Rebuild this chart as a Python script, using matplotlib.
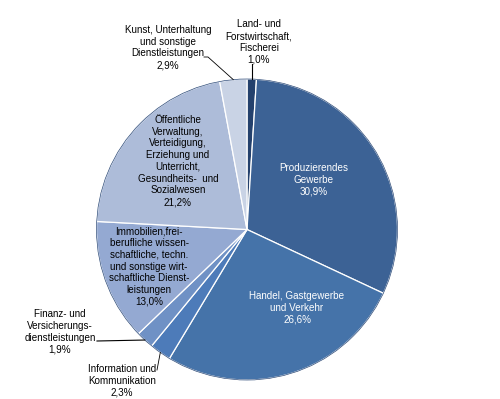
import numpy as np
import matplotlib
matplotlib.use("Agg")
from matplotlib import pyplot as plt

plt.rcParams['font.family'] = ['Liberation Sans', 'DejaVu Sans']

sectors = ["Land- und\nForstwirtschaft,\nFischerei",
           "Produzierendes\nGewerbe",
           "Handel, Gastgewerbe\nund Verkehr",
           "Information und\nKommunikation",
           "Finanz- und\nVersicherungs-\ndienstleistungen",
           "Immobilien,frei-\nberufliche wissen-\nschaftliche, techn.\nund sonstige wirt-\nschaftliche Dienst-\nleistungen",
           "Öffentliche\nVerwaltung,\nVerteidigung,\nErziehung und\nUnterricht,\nGesundheits-  und\nSozialwesen",
           "Kunst, Unterhaltung\nund sonstige\nDienstleistungen"]
shares = [1.0, 30.9, 26.6, 2.3, 1.9, 13.0, 21.2, 2.9]
pct_labels = ["1,0%", "30,9%", "26,6%", "2,3%", "1,9%", "13,0%", "21,2%", "2,9%"]
colors = ["#24416d", "#3c6295", "#4573a9", "#4d7bb9", "#6f91c5",
          "#94a9d2", "#adbcd9", "#c9d3e5"]

# layout (pixel units, y downwards)
cx, cy, r = 247, 229.5, 150.5
H = 399
text_pos = [(259, 42), (314, 180), (297, 308), (122, 380.5),
            (60, 332), (149, 266.5), (178, 161), (168, 47.5)]
text_col = ["black", "white", "white", "black", "black", "black", "black", "black"]

fig = plt.figure(figsize=(5.0, 3.99), dpi=100)
ax = fig.add_axes([0, 0, 1, 1])

wedges, _ = ax.pie(shares, colors=colors, startangle=90, counterclock=False,
                   center=(cx, H - cy), radius=r,
                   wedgeprops=dict(edgecolor="white", linewidth=0.9))
# dark outer rim
rim = plt.Circle((cx, H - cy), r, fill=False, edgecolor="#2c4a78", linewidth=0.5)
ax.add_patch(rim)

for i, w in enumerate(wedges):
    tx, ty = text_pos[i]
    ax.text(tx, H - ty, sectors[i] + "\n" + pct_labels[i], ha="center", va="center",
            fontsize=7.1, linespacing=1.22, color=text_col[i])

# leader lines for outside labels
def edge_point(i):
    w = wedges[i]
    a = np.deg2rad((w.theta1 + w.theta2) / 2)
    return cx + r * np.cos(a), H - cy + r * np.sin(a)

ex, ey = edge_point(0)
ax.plot([ex, ex], [ey, H - 64], color="black", lw=0.8)
ex, ey = edge_point(7)
ax.plot([204, 208, ex], [H - 57, H - 57, ey], color="black", lw=0.6)
ex, ey = edge_point(4)
ax.plot([97, ex], [H - 341, ey], color="black", lw=0.8)
ex, ey = edge_point(3)
ax.plot([157, ex], [H - 370, ey], color="black", lw=0.6)

ax.set_xlim(0, 500)
ax.set_ylim(0, H)
ax.set_aspect("equal")
ax.axis("off")

fig.savefig("out.png", dpi=100)
